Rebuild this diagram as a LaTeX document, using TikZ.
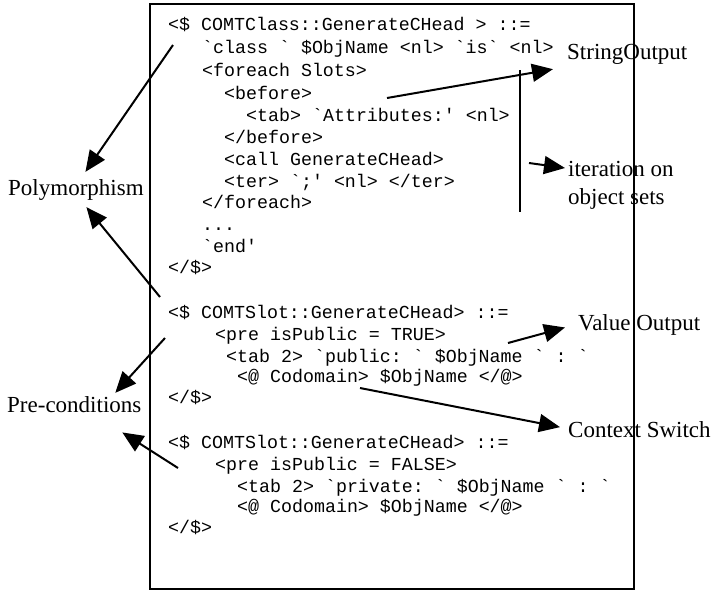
\documentclass[tikz,border=0pt]{standalone}
\usepackage{fontspec}
\setmainfont{Liberation Serif}
\setmonofont{Liberation Mono}
\usetikzlibrary{calc, arrows.meta}
\newcommand{\codesize}{\fontsize{18.3}{22}\selectfont}
\newcommand{\lblsize}{\fontsize{23}{28}\selectfont}
\tikzset{
  code/.style={anchor=base west, inner sep=0pt, font=\codesize\ttfamily},
  lbl/.style={anchor=base west, inner sep=0pt, font=\lblsize},
  arr/.style={line width=2pt, -{Triangle[length=21pt,width=18pt]}}
}

\begin{document}
\begin{tikzpicture}[x=1pt,y=-1pt]
        \useasboundingbox (0,0) rectangle (714,592);
        \draw[line width=2pt] (150,4) rectangle (634,589);

	% first template
	\node[code] (l1) at (168,30) {<\$ COMTClass::GenerateCHead > ::=};
	\node[code] (l2) at (202,53) {`class ` \$ObjName <nl> `is` <nl>};
	\node[code] (l3) at (202,76) {<foreach Slots>};
	\node[code] (l4) at (224,99) {<before>};
	\node[code] (l5) at (246,121) {<tab> `Attributes:' <nl>};
	\node[code] (l6) at (224,143) {</before>};
	\node[code] (l7) at (224,165) {<call GenerateCHead>};
	\node[code] (l8) at (224,187) {<ter> `;' <nl> </ter>};
	\node[code] (l9) at (202,208) {</foreach>};
	\node[code] (l10) at (202,230) {...};
	\node[code] (l11) at (202,252) {`end'};
	\node[code] (l12) at (168,273) {</\$>};

	% second template
	\node[code] (m1) at (168,318) {<\$ COMTSlot::GenerateCHead> ::=};
	\node[code] (m2) at (215,340) {<pre isPublic = TRUE>};
	\node[code] (m3) at (226,362) {<tab 2> `public: ` \$ObjName ` : `};
	\node[code] (m4) at (237,382) {<@ Codomain> \$ObjName </@>};
	\node[code] (m5) at (168,403) {</\$>};

	% third template
	\node[code] (n1) at (168,448) {<\$ COMTSlot::GenerateCHead> ::=};
	\node[code] (n2) at (215,470) {<pre isPublic = FALSE>};
	\node[code] (n3) at (237,492) {<tab 2> `private: ` \$ObjName ` : `};
	\node[code] (n4) at (237,512) {<@ Codomain> \$ObjName </@>};
	\node[code] (n5) at (168,533) {</\$>};

	% labels
	\node[lbl] (strout) at (567,59) {StringOutput};
	\node[lbl, anchor=north west, align=left] (iter) at (568,161) {iteration on\\object sets};
	\node[lbl] (valout) at (578,330) {Value Output};
	\node[lbl] (ctxsw) at (568,437) {Context Switch};
	\node[lbl] (poly) at (8,195) {Polymorphism};
	\node[lbl] (precond) at (7,412) {Pre-conditions};

	% arrow starts
	\coordinate (p1) at (173,45);
	\coordinate (p2) at (160,297);
	\coordinate (q1) at (165,338);
	\coordinate (q2) at (178,468);
	\coordinate (s1) at (387,98);
	\coordinate (v1) at (508,343);
	\coordinate (c1) at (360,388);
	\coordinate (it) at (529,163);
	\coordinate (bt) at (520,70);
	\coordinate (bb) at (520,212);

	\draw[line width=1.8pt] (bt) -- (bb);
	\draw[arr] (it) -- ($(iter.north west)+(-3,7)$);
	\draw[arr] (s1) -- ($(strout.south west)+(-14,5)$);
	\draw[arr] (v1) -- ($(valout.west)+(-13,3)$);
	\draw[arr] (c1) -- ($(ctxsw.west)+(-8,-2)$);
	\draw[arr] (p1) -- ($(poly.north)+(9.5,-7)$);
	\draw[arr] (p2) -- ($(poly.south)+(10.5,7)$);
	\draw[arr] (q1) -- ($(precond.north)+(41,-3)$);
	\draw[arr] (q2) -- ($(precond.south)+(48,20)$);
\end{tikzpicture}
\end{document}
